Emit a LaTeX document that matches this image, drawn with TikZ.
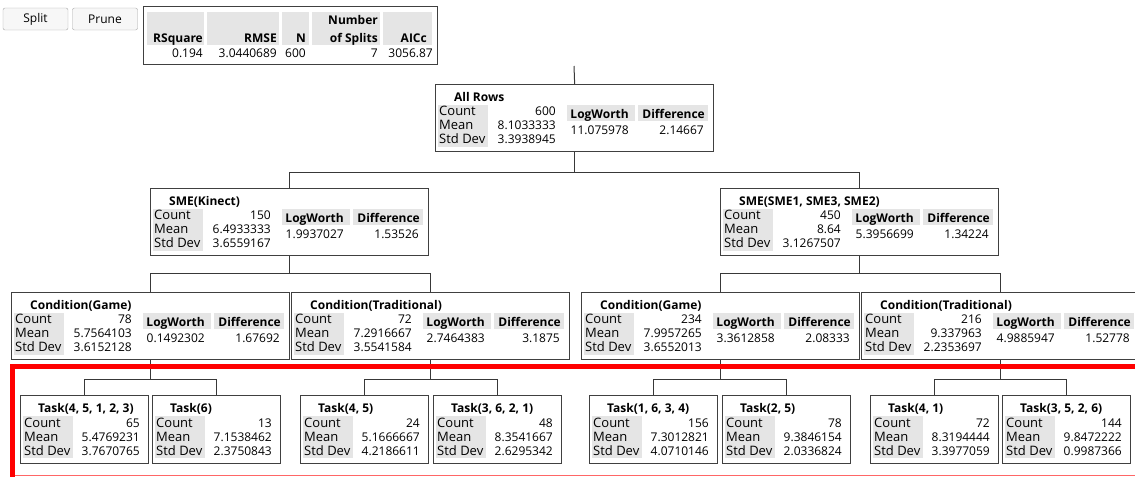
\documentclass[tikz,border=0pt]{standalone}
\usepackage{fontspec}
\setmainfont{Open Sans}
\usetikzlibrary{calc}

\begin{document}
\begin{tikzpicture}[x=1pt,y=-1pt,
    box/.style={draw=boxgray,line width=1.3pt,fill=white,inner sep=0pt,anchor=north west},
    txt/.style={inner sep=0pt,text height=8.6pt,text depth=0pt,font=\fontsize{12}{14}\selectfont},
    lbl/.style={txt,anchor=west,font=\fontsize{13}{15}\selectfont},
    val/.style={txt,anchor=east},
    ttl/.style={txt,anchor=west,font=\fontsize{12}{14}\selectfont\bfseries},
    hdr/.style={txt,anchor=east,font=\fontsize{12}{14}\selectfont\bfseries},
    btn/.style={draw=black!35,fill=black!3,rounded corners=2pt,minimum width=65pt,
        minimum height=22pt,inner sep=0pt,font=\fontsize{12}{14}\selectfont},
    link/.style={draw=linkgray,line width=1pt}]

    \colorlet{boxgray}{black!75}
    \colorlet{cellgray}{black!10}
    \colorlet{linkgray}{black!78}

    \useasboundingbox (0,0) rectangle (1135,477);

    % buttons and fit summary
    \node[btn] (split) at (35.5,19) {Split};
    \node[btn] (prune) at (105,19) {Prune};

    \node[box,minimum width=294pt,minimum height=58pt] (fit) at (143,6) {};
    \foreach \a/\b in {147/204,207/279,282/309,312/380,383/432}
        \fill[cellgray] (\a,12) rectangle (\b,45);
    \node[hdr] (fit-h1) at (203,38) {RSquare};
    \node[hdr] (fit-h2) at (277,38) {RMSE};
    \node[hdr] (fit-h3) at (306,38) {N};
    \node[hdr] (fit-h4a) at (378,20) {Number};
    \node[hdr] (fit-h4b) at (378,38) {of Splits};
    \node[hdr] (fit-h5) at (427,38) {AICc};
    \node[val] (fit-v1) at (203,53) {0.194};
    \node[val] (fit-v2) at (277,53) {3.0440689};
    \node[val] (fit-v3) at (306,53) {600};
    \node[val] (fit-v4) at (378,53) {7};
    \node[val] (fit-v5) at (433,53) {3056.87};

    % split nodes
    \foreach \n/\x/\y/\ttl/\cnt/\mn/\sd/\lw/\df in {
        root/435/84/All Rows/600/8.1033333/3.3938945/11.075978/2.14667,
        sk/150/188/SME(Kinect)/150/6.4933333/3.6559167/1.9937027/1.53526,
        ss/720/188/{SME(SME1, SME3, SME2)}/450/8.64/3.1267507/5.3956699/1.34224,
        gk/11/292/Condition(Game)/78/5.7564103/3.6152128/0.1492302/1.67692,
        tk/291/292/Condition(Traditional)/72/7.2916667/3.5541584/2.7464383/3.1875,
        gs/581/292/Condition(Game)/234/7.9957265/3.6552013/3.3612858/2.08333,
        ts/861/292/Condition(Traditional)/216/9.337963/2.2353697/4.9885947/1.52778}
    {
        \node[box,minimum width=278pt,minimum height=67pt] (\n) at (\x,\y) {};
        \fill[cellgray] ($(\n.north west)+(3,21)$) rectangle ++(50,42);
        \fill[cellgray] ($(\n.north west)+(132,21)$) rectangle ++(68,16);
        \fill[cellgray] ($(\n.north west)+(203,21)$) rectangle ++(70,16);
        \node[ttl] (\n-t) at ($(\n.north west)+(19,13)$) {\ttl};
        \node[lbl] (\n-cl) at ($(\n.north west)+(4,27)$) {Count};
        \node[lbl] (\n-ml) at ($(\n.north west)+(4,41)$) {Mean};
        \node[lbl] (\n-sl) at ($(\n.north west)+(4,55)$) {Std Dev};
        \node[val] (\n-cv) at ($(\n.north west)+(121,27)$) {\cnt};
        \node[val] (\n-mv) at ($(\n.north west)+(121,41)$) {\mn};
        \node[val] (\n-sv) at ($(\n.north west)+(121,55)$) {\sd};
        \node[hdr] (\n-lh) at ($(\n.north west)+(194,30)$) {LogWorth};
        \node[hdr] (\n-dh) at ($(\n.north west)+(270,30)$) {Difference};
        \node[val] (\n-lv) at ($(\n.north west)+(194,46)$) {\lw};
        \node[val] (\n-dv) at ($(\n.north west)+(269,46)$) {\df};
    }

    % leaves
    \foreach \n/\x/\ttl/\cnt/\mn/\sd in {
        la/20/{Task(4, 5, 1, 2, 3)}/65/5.4769231/3.7670765,
        lb/152/Task(6)/13/7.1538462/2.3750843,
        lc/300/{Task(4, 5)}/24/5.1666667/4.2186611,
        ld/433/{Task(3, 6, 2, 1)}/48/8.3541667/2.6295342,
        le/589/{Task(1, 6, 3, 4)}/156/7.3012821/4.0710146,
        lf/722/{Task(2, 5)}/78/9.3846154/2.0336824,
        lg/870/{Task(4, 1)}/72/8.3194444/3.3977059,
        lh/1002/{Task(3, 5, 2, 6)}/144/9.8472222/0.9987366}
    {
        \node[box,minimum width=128pt,minimum height=68pt] (\n) at (\x,395) {};
        \fill[cellgray] ($(\n.north west)+(3,21)$) rectangle ++(50,42);
        \node[ttl] (\n-t) at ($(\n.north west)+(18,13)$) {\ttl};
        \node[lbl] (\n-cl) at ($(\n.north west)+(4,28)$) {Count};
        \node[lbl] (\n-ml) at ($(\n.north west)+(4,42)$) {Mean};
        \node[lbl] (\n-sl) at ($(\n.north west)+(4,56)$) {Std Dev};
        \node[val] (\n-cv) at ($(\n.north west)+(120,28)$) {\cnt};
        \node[val] (\n-mv) at ($(\n.north west)+(120,42)$) {\mn};
        \node[val] (\n-sv) at ($(\n.north west)+(120,56)$) {\sd};
    }

    % tree links
    \coordinate (stub) at (574,66);
    \draw[link] (stub) -- (root.north);
    \foreach \p/\a/\b/\d in {root/sk/ss/20, sk/gk/tk/17, ss/gs/ts/17,
        gk/la/lb/19, tk/lc/ld/19, gs/le/lf/19, ts/lg/lh/19}
    {
        \draw[link] (\p.south) -- ++(0,\d) -| (\a.north);
        \draw[link] (\p.south) -- ++(0,\d) -| (\b.north);
    }

    % highlight
    \draw[red,line width=1pt,opacity=.6] (12,475) -- (1145,475);
    \draw[red,line width=5pt] (1145,366) -- (12.5,366) -- (12.5,477);

\end{tikzpicture}
\end{document}
